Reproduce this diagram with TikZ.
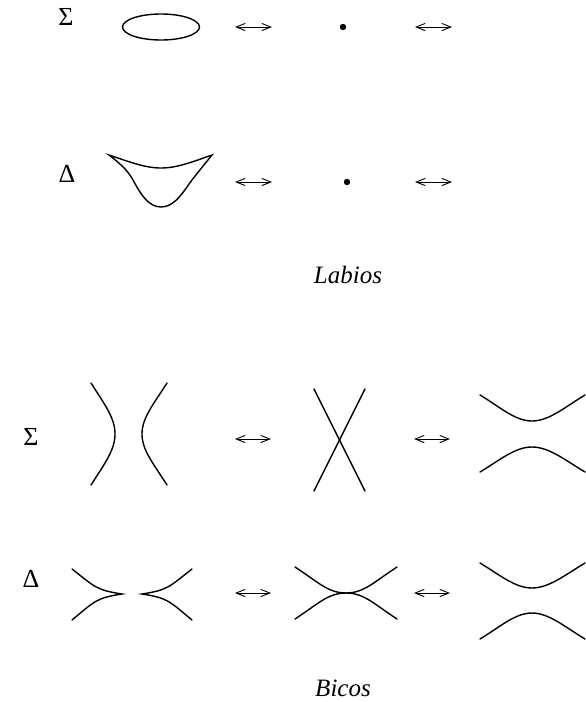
\documentclass[tikz,border=0pt]{standalone}
\usepackage{fontspec}
\setmainfont{Liberation Serif}
\usetikzlibrary{arrows.meta}
\begin{document}
\begin{tikzpicture}[x=0.5pt,y=-0.5pt,
  curve/.style={line width=0.7pt,line cap=round},
  swap/.style={line width=0.45pt,{Straight Barb[length=4.5pt,width=3.6pt]}-{Straight Barb[length=4.5pt,width=3.6pt]}},
  dotmark/.style={circle,fill,inner sep=0pt,minimum size=3.2pt},
  greek/.style={font=\fontsize{13}{15}\selectfont},
  caption/.style={font=\fontsize{12.5}{15}\selectfont\itshape}]
\useasboundingbox (0,0) rectangle (585,702);

% ---------- Labios ----------
\node[greek] (s1) at (66,17) {Σ};
\draw[curve] (161,27) ellipse [x radius=19.25pt, y radius=6.5pt];
\coordinate (a1l) at (235,27); \coordinate (a1r) at (272,27);
\draw[swap] (a1l) -- (a1r);
\node[dotmark] (p1) at (343,27) {};
\coordinate (a2l) at (415,27); \coordinate (a2r) at (452,27);
\draw[swap] (a2l) -- (a2r);

\node[greek] (d1) at (67,174) {Δ};
\draw[curve] (109,155) .. controls (130,162) and (145,168) .. (161,168)
  .. controls (177,168) and (192,162) .. (212,155)
  .. controls (200,170) and (193,178) .. (187,187)
  .. controls (180,197) and (172,207) .. (161,207)
  .. controls (148,207) and (140,193) .. (133,180)
  .. controls (127,169) and (118,162) .. (109,155) -- cycle;
\coordinate (a3l) at (235,182); \coordinate (a3r) at (272,182);
\draw[swap] (a3l) -- (a3r);
\node[dotmark] (p2) at (347,182) {};
\coordinate (a4l) at (415,182); \coordinate (a4r) at (452,182);
\draw[swap] (a4l) -- (a4r);

\node[caption] (lab) at (348,275) {Labios};

% ---------- Bicos ----------
\node[greek] (s2) at (31,437) {Σ};
% two branches facing each other
\draw[curve] (91,383) .. controls (105,405) and (115,418) .. (115,434)
  .. controls (115,450) and (105,463) .. (91,485);
\draw[curve] (167,383) .. controls (153,405) and (142,418) .. (142,434)
  .. controls (142,450) and (153,463) .. (167,485);
\coordinate (b1l) at (235,439); \coordinate (b1r) at (271,439);
\draw[swap] (b1l) -- (b1r);
% crossing
\coordinate (xa) at (314,389); \coordinate (xb) at (365,491);
\coordinate (xc) at (365,389); \coordinate (xd) at (314,491);
\draw[curve] (xa) -- (xb);
\draw[curve] (xc) -- (xd);
\coordinate (b2l) at (414,439); \coordinate (b2r) at (450,439);
\draw[swap] (b2l) -- (b2r);
% separated branches
\draw[curve] (480,395) .. controls (500,407) and (515,421) .. (532,421)
  .. controls (549,421) and (565,407) .. (585,395);
\draw[curve] (480,472) .. controls (500,460) and (515,447) .. (532,447)
  .. controls (549,447) and (565,460) .. (585,472);

\node[greek] (d2) at (31,579) {Δ};
% two cusps
\draw[curve] (72,569) .. controls (95,587) and (96,590) .. (122,594)
  .. controls (96,598) and (95,601) .. (72,620);
\draw[curve] (192,569) .. controls (169,587) and (168,590) .. (142,594)
  .. controls (168,598) and (169,601) .. (192,620);
\coordinate (b3l) at (235,593); \coordinate (b3r) at (271,593);
\draw[swap] (b3l) -- (b3r);
% tangent branches
\draw[curve] (295,567) .. controls (318,582) and (328,593) .. (346,593)
  .. controls (364,593) and (374,582) .. (397,567);
\draw[curve] (295,619) .. controls (318,604) and (328,593) .. (346,593)
  .. controls (364,593) and (374,604) .. (397,619);
\coordinate (b4l) at (414,593); \coordinate (b4r) at (450,593);
\draw[swap] (b4l) -- (b4r);
% separated branches
\draw[curve] (480,563) .. controls (500,575) and (515,588) .. (532,588)
  .. controls (549,588) and (565,575) .. (585,563);
\draw[curve] (480,639) .. controls (500,627) and (515,613) .. (532,613)
  .. controls (549,613) and (565,627) .. (585,639);

\node[caption] (bic) at (343,688) {Bicos};
\end{tikzpicture}
\end{document}
